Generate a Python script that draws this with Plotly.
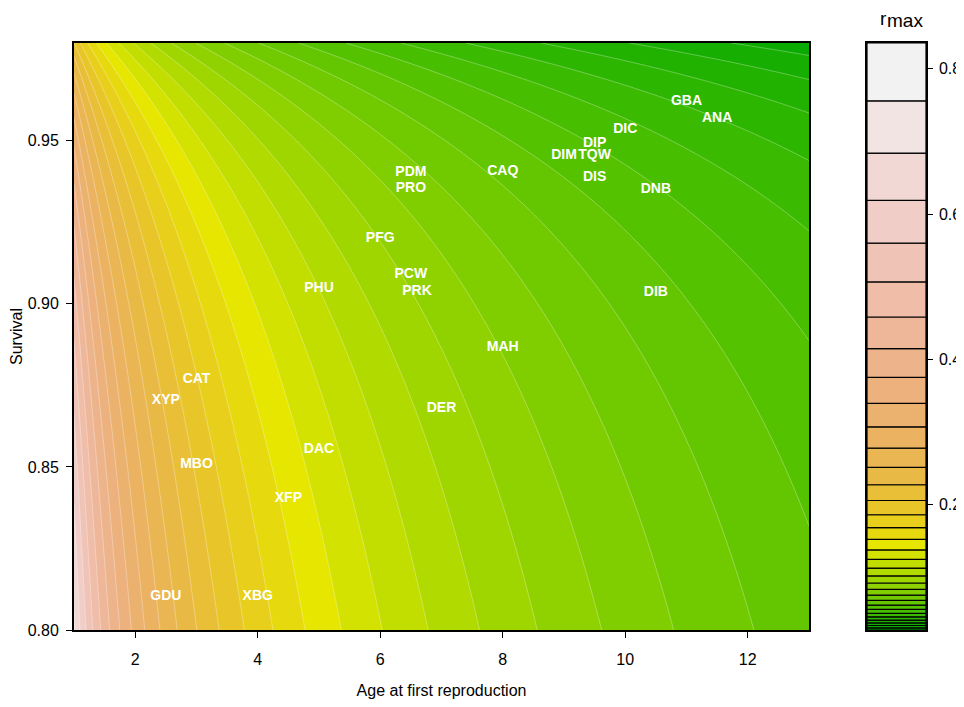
import numpy as np
import plotly.graph_objects as go
import colorsys

# ---------------- data ----------------
species = ["GBA", "ANA", "DIC", "DIP", "DIM", "TQW", "DIS", "DNB", "CAQ", "PDM",
           "PRO", "PFG", "PCW", "PRK", "PHU", "DIB", "MAH", "DER", "CAT", "XYP",
           "MBO", "DAC", "XFP", "GDU", "XBG"]
age_first_repro = [11.0, 11.5, 10.0, 9.5, 9.0, 9.5, 9.5, 10.5, 8.0, 6.5,
                   6.5, 6.0, 6.5, 6.6, 5.0, 10.5, 8.0, 7.0, 3.0, 2.5,
                   3.0, 5.0, 4.5, 2.5, 4.0]
survival = [0.962, 0.957, 0.9535, 0.9493, 0.9455, 0.9455, 0.9387, 0.935, 0.9405, 0.9402,
            0.9353, 0.920, 0.909, 0.9037, 0.9047, 0.9034, 0.8865, 0.868, 0.8767, 0.8703,
            0.8506, 0.8555, 0.8403, 0.8104, 0.8104]

x_ticks = [2, 4, 6, 8, 10, 12]
y_ticks = [0.80, 0.85, 0.90, 0.95]
cb_ticks = [0.2, 0.4, 0.6, 0.8]

# contour breaks: geometric (uniform in log r_max)
log_break_top = -0.18
log_break_step = 0.1
n_bands = 34

# ---------------- surface: demographic invariant method ----------------
alpha_axis = np.linspace(1.0, 13.0, 241)
surv_axis = np.linspace(0.80, 0.98, 181)
A, S = np.meshgrid(alpha_axis, surv_axis)
lam = np.full_like(A, 1.5)
for _ in range(400):
    lam = np.exp(1.0 / (A + S / (lam - S)))
rmax = lam - 1.0
logr = np.log(rmax)

# ---------------- R terrain.colors ----------------
def terrain_colors(n):
    k = n // 2
    h1 = np.linspace(4 / 12, 2 / 12, k); s1 = np.ones(k); v1 = np.linspace(0.65, 0.9, k)
    h2 = np.linspace(2 / 12, 0, n - k + 1)[1:]; s2 = np.linspace(1, 0, n - k + 1)[1:]
    v2 = np.linspace(0.9, 0.95, n - k + 1)[1:]
    hs = np.concatenate([h1, h2]); ss = np.concatenate([s1, s2]); vs = np.concatenate([v1, v2])
    out = []
    for h, s, v in zip(hs, ss, vs):
        r, g, b = colorsys.hsv_to_rgb(h, s, v)
        out.append("#%02X%02X%02X" % (int(255 * r + 0.5), int(255 * g + 0.5), int(255 * b + 0.5)))
    return out

cols = terrain_colors(n_bands)
breaks_log = [log_break_top - log_break_step * (n_bands - j) for j in range(n_bands + 1)]
breaks = [float(np.exp(b)) for b in breaks_log]

# stepped colorscale: band j -> cols[j]
nc = n_bands - 1
cscale = []
for j in range(n_bands):
    lo = max(0.0, (j - 0.5) / nc)
    hi = min(1.0, (j + 0.5) / nc)
    cscale.append([lo, cols[j]])
    cscale.append([hi, cols[j]])

# page has an 8px body margin: positions below are reference pixels minus 8
OFF = 8
W, H = 952, 691
ML, MT = 74 - OFF, 43 - OFF
MB = H - (630 - OFF)
PW = 860
MR = W - ML - PW
PH = H - MT - MB

fig = go.Figure()
fig.add_trace(go.Contour(
    x=alpha_axis, y=surv_axis, z=logr,
    autocontour=False,
    contours=dict(start=breaks_log[1], end=breaks_log[n_bands - 1], size=log_break_step,
                  coloring="fill", showlines=True),
    line=dict(color="rgba(255,255,255,0.45)", width=0.7, smoothing=0),
    colorscale=cscale, showscale=False, hoverinfo="skip",
    xaxis="x", yaxis="y",
))

font_family = "Liberation Sans, Arial, Helvetica, sans-serif"

fig.add_trace(go.Scatter(
    x=age_first_repro, y=survival, text=species, mode="text",
    textposition="middle center",
    textfont=dict(family=font_family, size=14, color="white", weight="bold"),
    hoverinfo="text", showlegend=False, xaxis="x", yaxis="y", cliponaxis=False,
))

# manual colour key
lows = breaks[:-1]
highs = breaks[1:]
fig.add_trace(go.Bar(
    x=[0] * n_bands, base=lows, y=[h - l for h, l in zip(highs, lows)],
    marker=dict(color=cols, line=dict(color="black", width=1.2)),
    width=1.0, xaxis="x2", yaxis="y2", showlegend=False, hoverinfo="skip",
))

fig.update_layout(
    template="none",
    width=W, height=H,
    margin=dict(l=ML, r=MR, t=MT, b=MB, pad=0, autoexpand=False),
    paper_bgcolor="white", plot_bgcolor="white",
    showlegend=False, barmode="overlay",
    font=dict(family=font_family, size=16, color="black"),
    xaxis=dict(domain=[0, 735 / PW], range=[1, 13], tickvals=x_ticks, automargin=False,
               ticks="outside", ticklen=6, tickwidth=1.2, tickcolor="black",
               showline=True, linewidth=2, linecolor="black", mirror=True,
               showgrid=False, zeroline=False, ticklabelstandoff=8,
               title=dict(text="Age at first reproduction", font=dict(size=16), standoff=21)),
    yaxis=dict(domain=[0, 1], range=[0.80, 0.98], tickvals=y_ticks, tickformat=".2f",
               automargin=False,
               ticks="outside", ticklen=6, tickwidth=1.2, tickcolor="black",
               showline=True, linewidth=2, linecolor="black", mirror=True,
               showgrid=False, zeroline=False, ticklabelstandoff=4,
               title=dict(text="Survival", font=dict(size=16), standoff=8)),
    xaxis2=dict(domain=[(867 - 74) / PW, (926 - 74) / PW], range=[-0.5, 0.5],
                automargin=False,
                showticklabels=False, ticks="", showline=True, linewidth=1.5,
                linecolor="black", mirror=True, showgrid=False, zeroline=False,
                anchor="y2", fixedrange=True),
    yaxis2=dict(domain=[0, 1], range=[breaks[0], breaks[-1]], anchor="x2", side="right",
                automargin=False, ticklabeloverflow="allow",
                tickvals=cb_ticks, ticktext=[str(t) for t in cb_ticks],
                ticks="outside", ticklen=5, tickwidth=1.2, tickcolor="black",
                showline=True, linewidth=1.5, linecolor="black", mirror=True,
                showgrid=False, zeroline=False, ticklabelstandoff=3, fixedrange=True),
)

def px_x(p):
    return (p - OFF - ML) / PW

def px_y(p):
    return 1 - (p - OFF - MT) / PH

fig.add_annotation(text="r", xref="paper", yref="paper", x=px_x(883), y=px_y(18),
                   xanchor="center", yanchor="middle", showarrow=False,
                   font=dict(family=font_family, size=19, color="black"))
fig.add_annotation(text="max", xref="paper", yref="paper", x=px_x(905), y=px_y(21),
                   xanchor="center", yanchor="middle", showarrow=False,
                   font=dict(family=font_family, size=19, color="black"))

fig.write_html("out.html")
